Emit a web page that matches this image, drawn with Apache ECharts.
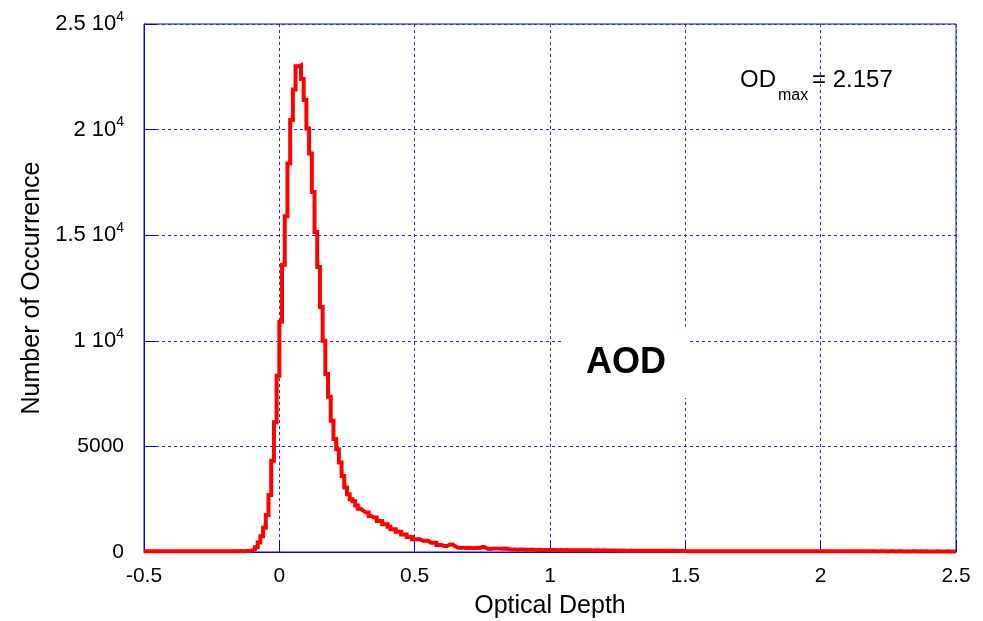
<!DOCTYPE html>
<html>
<head>
<meta charset="utf-8">
<script src="https://cdn.jsdelivr.net/npm/echarts@6/dist/echarts.min.js"></script>
<style>
  html, body { margin: 0; padding: 0; background: #fff; }
  #chart { width: 983px; height: 621px; }
</style>
</head>
<body>
<div id="chart"></div>
<script>
// Histogram of aerosol optical depth: bins of width 0.01 from -0.5 to 2.5
const binStart = -0.5;
const binWidth = 0.01;
const counts = [
  // -0.50 .. -0.12
  30,35,30,30,35,30,30,35,30,30, 35,30,30,35,30,30,35,35,30,30,
  35,30,35,30,35,35,30,35,35,40, 35,40,35,40,40,45,40,45,50,
  // -0.11 .. -0.01
  70,120,220,450,750,1150,1750,2700,4320,6140,8350,
  // 0.00 .. 0.09
  10900,13600,15900,18400,20450,21900,23000,23050,22400,21400,
  // 0.10 .. 0.19
  20050,18870,17050,15150,13500,11600,10000,8430,7350,6220,
  // 0.20 .. 0.29
  5350,4870,4240,3600,3050,2740,2500,2400,2200,2050,
  // 0.30 .. 0.39
  1960,1870,1870,1710,1630,1630,1470,1470,1310,1310,
  // 0.40 .. 0.49
  1190,1080,1080,960,960,830,830,710,710,600,
  // 0.50 .. 0.59
  600,600,530,530,530,440,440,440,330,330,
  // 0.60 .. 0.69
  280,280,360,360,270,200,200,200,190,200,
  // 0.70 .. 0.79
  190,180,200,190,240,230,150,140,160,170,
  // 0.80 .. 0.89
  160,150,160,150,130,120,120,110,120,120,
  // 0.90 .. 0.99
  110,110,120,110,100,110,100,100,100,90,
  // 1.00 .. 1.49
  90,90,85,90,85,90,85,80,85,80,
  85,80,80,85,80,75,80,80,75,80,
  75,75,70,70,70,65,70,65,65,70,
  65,65,60,65,60,60,60,55,60,60,
  55,60,55,55,60,55,55,50,55,50,
  // 1.50 .. 2.49
  40,40,35,40,35,40,35,35,40,35,
  35,30,35,30,30,35,30,30,35,30,
  30,30,35,30,30,30,35,30,30,30,
  30,35,30,30,30,30,35,30,30,30,
  30,30,30,35,30,30,30,30,30,35,
  30,30,30,30,30,30,35,30,30,30,
  30,30,30,30,30,30,30,30,30,30,
  25,30,30,30,25,30,30,25,30,30,
  25,30,25,30,30,25,30,25,30,25,
  25,25,30,25,25,25,30,25,25,25
];

// y tick labels: mantissa and power-of-ten exponent
const yTickValues = [0, 5000, 10000, 15000, 20000, 25000];
const yTickMantissa = ['0', '5000', '1', '1.5', '2', '2.5'];
const yTickExponent = ['', '', '4', '4', '4', '4'];

const annotationLabel = 'OD';
const annotationSub = 'max';
const annotationValue = '= 2.157';
const panelTitle = 'AOD';

// Step line points at each bin's left edge, plus the closing right edge
const points = counts.map((c, k) => [+(binStart + k * binWidth).toFixed(4), c]);
points.push([+(binStart + counts.length * binWidth).toFixed(4), counts[counts.length - 1]]);

const FONT = '"Liberation Sans", Arial, Helvetica, sans-serif';
const BLUE = '#0000ff';
const GRID_BLUE = '#2a2ad8';

const chart = echarts.init(document.getElementById('chart'), null, { renderer: 'canvas' });

chart.setOption({
  animation: false,
  backgroundColor: '#ffffff',
  grid: {
    left: 144, right: 27, top: 24, bottom: 69,
    outerBoundsMode: 'none',
    show: true, borderColor: BLUE, borderWidth: 1, backgroundColor: 'transparent'
  },
  xAxis: {
    type: 'value', min: -0.5, max: 2.5, interval: 0.5,
    name: 'Optical Depth', nameLocation: 'middle', nameGap: 42,
    nameTextStyle: { fontFamily: FONT, fontSize: 25, color: '#000' },
    axisLine: { show: true, onZero: false, lineStyle: { color: BLUE, width: 1 } },
    axisTick: { show: true, inside: true, length: 12, lineStyle: { color: BLUE, width: 1 } },
    axisLabel: { fontFamily: FONT, fontSize: 21, color: '#000', margin: 14 },
    splitLine: { show: true, lineStyle: { color: GRID_BLUE, width: 1, type: [3, 3] } }
  },
  yAxis: {
    type: 'value', min: 0, max: 25000, interval: 5000,
    name: 'Number of Occurrence', nameLocation: 'middle', nameGap: 98, nameRotate: 90,
    nameTextStyle: { fontFamily: FONT, fontSize: 25, color: '#000' },
    axisLine: { show: true, onZero: false, lineStyle: { color: BLUE, width: 1 } },
    axisTick: { show: true, inside: true, length: 12, lineStyle: { color: BLUE, width: 1 } },
    axisLabel: {
      margin: 20,
      formatter: function (v) {
        const i = yTickValues.indexOf(v);
        if (i < 0) return '';
        return yTickExponent[i]
          ? '{m|' + yTickMantissa[i] + '}{t|10}{e|' + yTickExponent[i] + '}'
          : '{p|' + yTickMantissa[i] + '}';
      },
      rich: {
        p: { fontFamily: FONT, fontSize: 21, color: '#000', lineHeight: 28 },
        m: { fontFamily: FONT, fontSize: 22, color: '#000', lineHeight: 28 },
        t: { fontFamily: FONT, fontSize: 22, color: '#000', lineHeight: 28, padding: [0, 0, 0, 6] },
        e: { fontFamily: FONT, fontSize: 14, color: '#000', verticalAlign: 'top', lineHeight: 28 }
      }
    },
    splitLine: { show: true, lineStyle: { color: GRID_BLUE, width: 1, type: [3, 3] } }
  },
  series: [{
    type: 'line',
    data: points,
    step: 'end',
    showSymbol: false,
    symbol: 'none',
    lineStyle: { color: '#ff0000', width: 4, join: 'miter', cap: 'butt', miterLimit: 4 },
    z: 5
  }],
  graphic: [
    {
      type: 'text', x: 740, y: 80, z: 10,
      style: { text: annotationLabel, font: '24px ' + FONT, fill: '#000', verticalAlign: 'middle', align: 'left' }
    },
    {
      type: 'text', x: 778, y: 96, z: 10,
      style: { text: annotationSub, font: '16px ' + FONT, fill: '#000', verticalAlign: 'middle', align: 'left' }
    },
    {
      type: 'text', x: 812, y: 80, z: 10,
      style: { text: annotationValue, font: '24px ' + FONT, fill: '#000', verticalAlign: 'middle', align: 'left' }
    },
    {
      type: 'text', x: 626, y: 363, z: 10,
      style: {
        text: panelTitle, font: 'bold 36px ' + FONT, fill: '#000',
        align: 'center', verticalAlign: 'middle',
        backgroundColor: '#ffffff', padding: [17, 22, 17, 22]
      }
    }
  ]
});
</script>
</body>
</html>
